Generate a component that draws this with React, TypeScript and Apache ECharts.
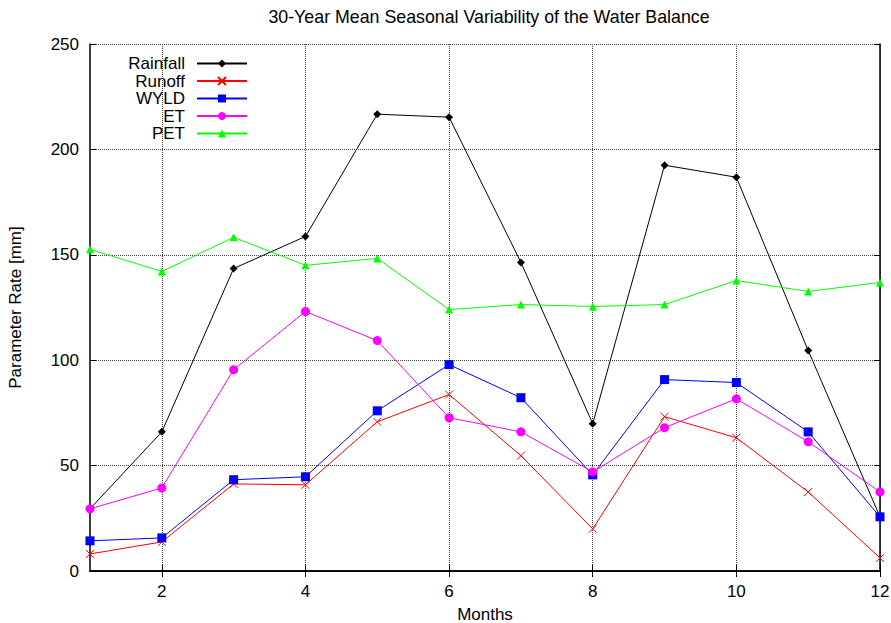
import React, { useEffect, useRef } from "react";
import * as echarts from "echarts";

const months = [1, 2, 3, 4, 5, 6, 7, 8, 9, 10, 11, 12];
const xTicks = [2, 4, 6, 8, 10, 12];
const rainfall = [29.5, 66, 143.5, 158.7, 216.7, 215.3, 146.4, 69.9, 192.5, 186.8, 104.6, 25.7];
const runoff = [8.1, 13.8, 41.3, 40.9, 70.8, 83.7, 54.7, 20, 73.2, 63.2, 37.5, 6.2];
const wyld = [14.3, 15.7, 43.3, 44.7, 76, 97.9, 82.2, 45.6, 90.8, 89.4, 66, 25.7];
const et = [29.5, 39.4, 95.5, 123.1, 109.3, 72.7, 66, 47, 68, 81.7, 61.3, 37.5];
const pet = [152.6, 142.1, 158.3, 145, 148.3, 124, 126.4, 125.5, 126.4, 137.8, 132.6, 136.9];

const FONT = "'Liberation Sans', Arial, Helvetica, sans-serif";
const FS = 17;

export default function App() {
  const ref = useRef<HTMLDivElement>(null);
  useEffect(() => {
    if (!ref.current) return;
    document.body.style.margin = "0";
    const chart = echarts.init(ref.current, undefined, { renderer: "svg" });
    const pair = (arr: number[]) => months.map((m, i) => [m, arr[i]]);
    const mk = (name: string, arr: number[], color: string, symbol: string, size: number, extra: any = {}) => ({
      name,
      type: "line",
      data: pair(arr),
      symbol,
      symbolSize: size,
      lineStyle: { color, width: 1 },
      itemStyle: { color, ...extra },
      clip: false,
    });
    const axisLine = { show: true, lineStyle: { color: "#000", width: 1.5 } };
    const xTick = { show: true, inside: true, length: 6, customValues: xTicks, lineStyle: { color: "#000", width: 1 } };
    const yTick = { show: true, inside: true, length: 6, lineStyle: { color: "#000", width: 1 } };
    chart.setOption({
      animation: false,
      backgroundColor: "#fff",
      textStyle: { fontFamily: FONT },
      title: {
        text: "30-Year Mean Seasonal Variability of the Water Balance",
        left: 484,
        top: 3,
        textAlign: "center",
        textStyle: { fontFamily: FONT, fontSize: 17.8, fontWeight: "normal", color: "#000" },
      },
      legend: {
        orient: "vertical",
        left: 106,
        top: 50,
        align: "right",
        itemWidth: 50,
        itemHeight: 10,
        itemGap: 0.5,
        formatter: (n: string) => "{a|" + n + "}",
        textStyle: {
          fontFamily: FONT,
          fontSize: FS,
          color: "#000",
          rich: { a: { width: 74, align: "right", fontSize: FS, fontFamily: FONT, lineHeight: 17, padding: [0, 7, 0, 0] } },
        },
      },
      grid: { left: 90, right: 11, top: 44, bottom: 52, containLabel: false, outerBoundsMode: "none" },
      xAxis: [
        {
          type: "value",
          min: 1,
          max: 12,
          name: "Months",
          nameLocation: "middle",
          nameGap: 35,
          nameTextStyle: { fontFamily: FONT, fontSize: FS, color: "#000" },
          axisLine,
          axisTick: xTick,
          axisLabel: { customValues: xTicks, margin: 12, fontFamily: FONT, fontSize: FS, color: "#000" },
          splitLine: { show: true, customValues: xTicks, lineStyle: { type: "dotted", color: "#444", width: 1 } },
        },
        {
          type: "value",
          position: "top",
          min: 1,
          max: 12,
          axisLine,
          axisTick: xTick,
          axisLabel: { show: false, customValues: xTicks },
          splitLine: { show: false },
        },
      ],
      yAxis: [
        {
          type: "value",
          min: 0,
          max: 250,
          interval: 50,
          name: "Parameter Rate [mm]",
          nameLocation: "middle",
          nameGap: 66,
          nameTextStyle: { fontFamily: FONT, fontSize: FS, color: "#000" },
          axisLine,
          axisTick: yTick,
          axisLabel: { margin: 11, fontFamily: FONT, fontSize: FS, color: "#000" },
          splitLine: { show: true, lineStyle: { type: "dotted", color: "#444", width: 1 } },
        },
        {
          type: "value",
          position: "right",
          min: 0,
          max: 250,
          interval: 50,
          axisLine,
          axisTick: yTick,
          axisLabel: { show: false },
          splitLine: { show: false },
        },
      ],
      series: [
        mk("Rainfall", rainfall, "#000000", "diamond", 8),
        mk("Runoff", runoff, "#ff0000", "path://M0 0L10 10M10 0L0 10", 8, { borderColor: "#ff0000", borderWidth: 1 }),
        mk("WYLD", wyld, "#0000ff", "rect", 9),
        mk("ET", et, "#ff00ff", "circle", 9),
        mk("PET", pet, "#00ff00", "triangle", 8),
      ],
    });
    return () => chart.dispose();
  }, []);
  return <div ref={ref} style={{ width: 891, height: 623 }} />;
}
